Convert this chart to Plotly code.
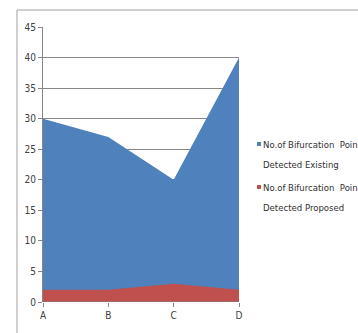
import plotly.graph_objects as go

categories = ["A", "B", "C", "D"]
existing = [30, 27, 20, 40]
proposed = [2, 2, 3, 2]
series_names = ["No.of Bifurcation  Point Detected Existing", "No.of Bifurcation  Point Detected Proposed"]
legend_lines = [["No.of Bifurcation  Poin", "Detected Existing"], ["No.of Bifurcation  Poin", "Detected Proposed"]]
colors = ["#4F81BD", "#C0504D"]
y_ticks = list(range(0, 46, 5))

xpos = list(range(len(categories)))

fig = go.Figure()
fig.add_trace(go.Scatter(x=xpos, y=existing, name=series_names[0], mode="lines",
                         line=dict(width=0, color=colors[0]), fill="tozeroy",
                         fillcolor=colors[0]))
fig.add_trace(go.Scatter(x=xpos, y=proposed, name=series_names[1], mode="lines",
                         line=dict(width=0, color=colors[1]), fill="tozeroy",
                         fillcolor=colors[1]))

font = dict(family="DejaVu Sans Condensed, Liberation Sans, Arial", size=10, color="#404040")
lfont = dict(family="DejaVu Sans Condensed, Liberation Sans, Arial", size=9.5, color="#303030")

fig.update_layout(
    width=358, height=333,
    margin=dict(l=43, r=119, t=27, b=31),
    paper_bgcolor="white", plot_bgcolor="white",
    showlegend=False,
    font=font,
    xaxis=dict(range=[0, 3], tickvals=xpos, ticktext=categories, showgrid=False,
               zeroline=False, showline=False, ticks="outside", ticklen=4,
               tickcolor="#868686", tickfont=font),
    yaxis=dict(range=[0, 45], tickvals=y_ticks, showgrid=True, gridcolor="#868686",
               gridwidth=1, zeroline=False, showline=True, linecolor="#868686",
               ticks="outside", ticklen=4, tickcolor="#868686", tickfont=font),
)

# chart frame
fig.add_shape(type="rect", xref="paper", yref="paper",
              x0=-26/196, x1=1.7, y0=-0.2, y1=(302-10)/275,
              line=dict(color="#A0A0A0", width=1), fillcolor="rgba(0,0,0,0)", layer="below")

# x-axis baseline
fig.add_shape(type="line", xref="paper", yref="y", x0=0, x1=1, y0=0, y1=0,
              line=dict(color="#868686", width=1))

# legend
line_y = [[144, 164], [187, 207]]
for i in range(2):
    y0 = line_y[i][0]
    fig.add_shape(type="rect", xref="paper", yref="paper",
                  x0=(257-43)/196, x1=(261-43)/196,
                  y0=(302-(y0+2))/275, y1=(302-(y0-2))/275,
                  fillcolor=colors[i], line=dict(width=0))
    for j, txt in enumerate(legend_lines[i]):
        yy = line_y[i][j]
        fig.add_annotation(xref="paper", yref="paper", x=(261-43)/196, y=(302-yy)/275,
                           text=txt, showarrow=False, xanchor="left", yanchor="middle",
                           font=lfont)

fig.write_html("out.html")
